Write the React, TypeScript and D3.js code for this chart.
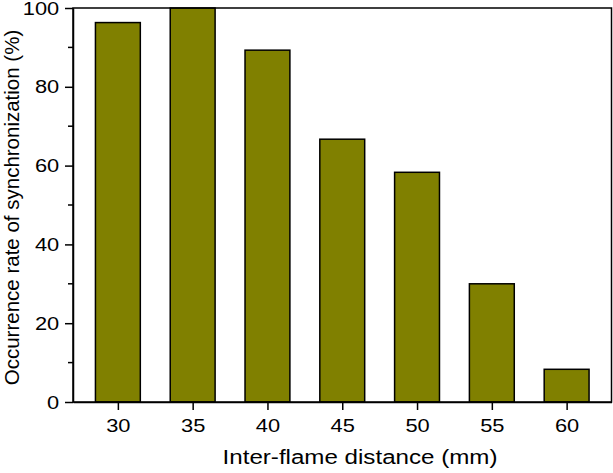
import React, { useEffect, useRef } from 'react';
import * as d3 from 'd3';

const distances = [30, 35, 40, 45, 50, 55, 60];
const rates = [96.3, 100, 89.3, 66.7, 58.3, 30, 8.3];
const xTicks = [30, 35, 40, 45, 50, 55, 60];
const yTicks = [0, 20, 40, 60, 80, 100];
const yMinorTicks = [10, 30, 50, 70, 90];

const W = 613;
const H = 473;
const margin = { top: 8, right: 1.5, bottom: 71, left: 73 };

const App: React.FC = () => {
  const ref = useRef<SVGSVGElement>(null);

  useEffect(() => {
    if (!ref.current) return;
    const svg = d3.select(ref.current);
    svg.selectAll('*').remove();

    const x = d3.scaleLinear().domain([27, 63]).range([margin.left, W - margin.right]);
    const y = d3.scaleLinear().domain([0, 100]).range([H - margin.bottom, margin.top]);
    const barW = x(3) - x(0);
    const font = 'Liberation Sans, Arial, sans-serif';
    const stretch = 'scale(1.15,1)'; // reference text is a bit wide

    // bars
    svg.append('g')
      .selectAll('rect')
      .data(distances)
      .enter()
      .append('rect')
      .attr('x', d => x(d) - barW / 2)
      .attr('y', (d, i) => y(rates[i]))
      .attr('width', barW)
      .attr('height', (d, i) => y(0) - y(rates[i]))
      .attr('fill', '#808000')
      .attr('stroke', '#000')
      .attr('stroke-width', 1.5);

    // frame
    svg.append('rect')
      .attr('x', x(27))
      .attr('y', y(100))
      .attr('width', x(63) - x(27))
      .attr('height', y(0) - y(100))
      .attr('fill', 'none')
      .attr('stroke', '#000')
      .attr('stroke-width', 1.5);

    // x axis
    const xAxis = svg.append('g')
      .attr('transform', `translate(0,${y(0)})`)
      .call(d3.axisBottom(x).tickValues(xTicks).tickSize(8).tickPadding(9).tickSizeOuter(0));
    xAxis.select('.domain').attr('stroke-width', 1.5);
    xAxis.selectAll('.tick line').attr('stroke-width', 1.5);
    xAxis.selectAll('.tick text')
      .attr('font-family', font)
      .attr('font-size', 19)
      .attr('fill', '#000')
      .attr('transform', stretch);

    // y axis
    const yAxis = svg.append('g')
      .attr('transform', `translate(${x(27)},0)`)
      .call(d3.axisLeft(y).tickValues(yTicks).tickSize(8).tickPadding(4).tickSizeOuter(0));
    yAxis.select('.domain').attr('stroke-width', 1.5);
    yAxis.selectAll('.tick line').attr('stroke-width', 1.5);
    yAxis.selectAll('.tick text')
      .attr('font-family', font)
      .attr('font-size', 19)
      .attr('fill', '#000')
      .attr('transform', stretch);

    svg.append('g')
      .selectAll('line')
      .data(yMinorTicks)
      .enter()
      .append('line')
      .attr('x1', x(27) - 5)
      .attr('x2', x(27))
      .attr('y1', d => y(d))
      .attr('y2', d => y(d))
      .attr('stroke', '#000')
      .attr('stroke-width', 1.5);

    // titles
    svg.append('text')
      .attr('transform', `translate(360,464) ${stretch}`)
      .attr('text-anchor', 'middle')
      .attr('font-family', font)
      .attr('font-size', 21)
      .text('Inter-flame distance (mm)');

    svg.append('text')
      .attr('transform', 'translate(18.5,207.5) rotate(-90)')
      .attr('text-anchor', 'middle')
      .attr('font-family', font)
      .attr('font-size', 20.5)
      .text('Occurrence rate of synchronization (%)');
  }, []);

  return (
    <svg ref={ref} width={W} height={H} style={{ position: 'absolute', left: 0, top: 0, background: '#fff' }} />
  );
};

export default App;
